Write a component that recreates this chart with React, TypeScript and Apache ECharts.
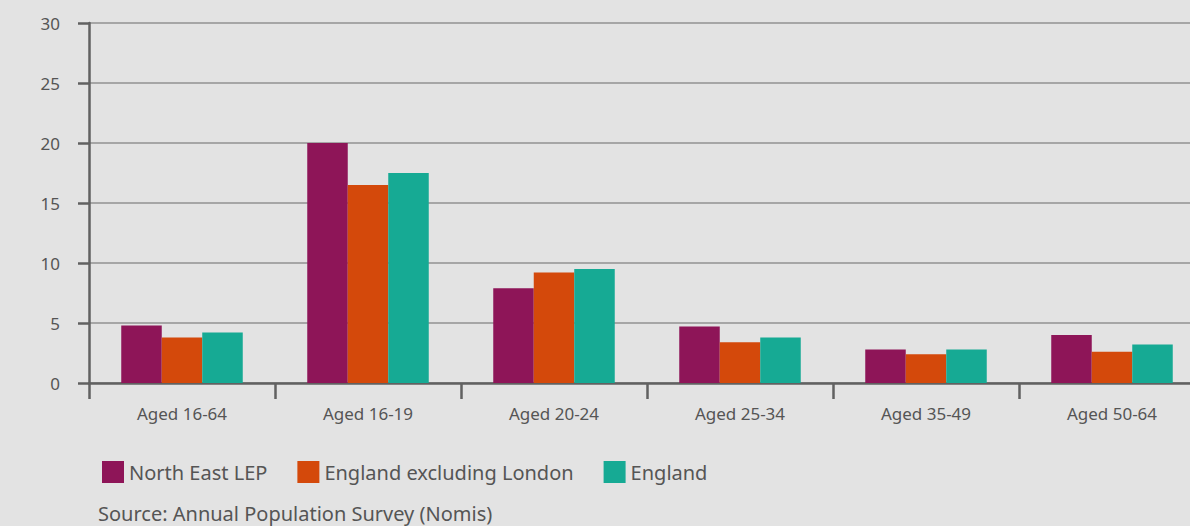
import React, { useEffect, useRef } from "react";
import * as echarts from "echarts";

const categories = ["Aged 16-64", "Aged 16-19", "Aged 20-24", "Aged 25-34", "Aged 35-49", "Aged 50-64"];
const northEastLEP = [4.8, 20.0, 7.9, 4.7, 2.8, 4.0];
const englandExclLondon = [3.8, 16.5, 9.2, 3.4, 2.4, 2.6];
const england = [4.2, 17.5, 9.5, 3.8, 2.8, 3.2];
const seriesNames = ["North East LEP", "England excluding London", "England"];
const colors = ["#8E1558", "#D4490B", "#16AA94"];
const yTicks = { min: 0, max: 30, interval: 5 };
const sourceText = "Source: Annual Population Survey (Nomis)";

const FONT = "'Noto Sans', sans-serif";
const TEXT = "#555555";

export default function App() {
  const ref = useRef<HTMLDivElement>(null);
  useEffect(() => {
    if (!ref.current) return;
    const chart = echarts.init(ref.current, undefined, { renderer: "svg" });
    const data = [northEastLEP, englandExclLondon, england];
    chart.setOption({
      animation: false,
      backgroundColor: "#E3E3E3",
      textStyle: { fontFamily: FONT },
      grid: { left: 89, top: 23, right: 0, height: 360, containLabel: false },
      legend: {
        left: 97,
        top: 456,
        itemWidth: 22,
        itemHeight: 22,
        itemGap: 30,
        icon: "rect",
        textStyle: { color: TEXT, fontSize: 20, fontFamily: FONT, padding: [3, 0, 0, 0] },
        data: seriesNames,
      },
      xAxis: {
        type: "category",
        data: categories,
        axisLine: { lineStyle: { color: "#616161", width: 2.5 } },
        axisTick: { show: true, length: 16, lineStyle: { color: "#616161", width: 2.5 } },
        axisLabel: { color: TEXT, fontSize: 17, margin: 22, fontFamily: FONT },
        splitLine: { show: false },
      },
      yAxis: {
        type: "value",
        min: yTicks.min,
        max: yTicks.max,
        interval: yTicks.interval,
        axisLine: { show: true, lineStyle: { color: "#616161", width: 2.5 } },
        axisTick: { show: true, length: 11, lineStyle: { color: "#616161", width: 2.5 } },
        axisLabel: { color: TEXT, fontSize: 17, margin: 29, fontFamily: FONT },
        splitLine: { show: true, lineStyle: { color: "#929292", width: 1.5 } },
      },
      series: seriesNames.map((name, i) => ({
        name,
        type: "bar",
        data: data[i],
        barWidth: 40.5,
        barGap: "0%",
        itemStyle: { color: colors[i] },
      })),
      graphic: [
        {
          type: "text",
          left: 98,
          top: 503,
          style: { text: sourceText, fill: TEXT, fontSize: 20, fontFamily: FONT },
        },
      ],
    });
    return () => chart.dispose();
  }, []);
  return (
    <div
      style={{ position: "fixed", left: 0, top: 0, width: 1190, height: 526, overflow: "hidden", background: "#E3E3E3" }}
    >
      <div ref={ref} style={{ width: 1205, height: 526 }} />
    </div>
  );
}
